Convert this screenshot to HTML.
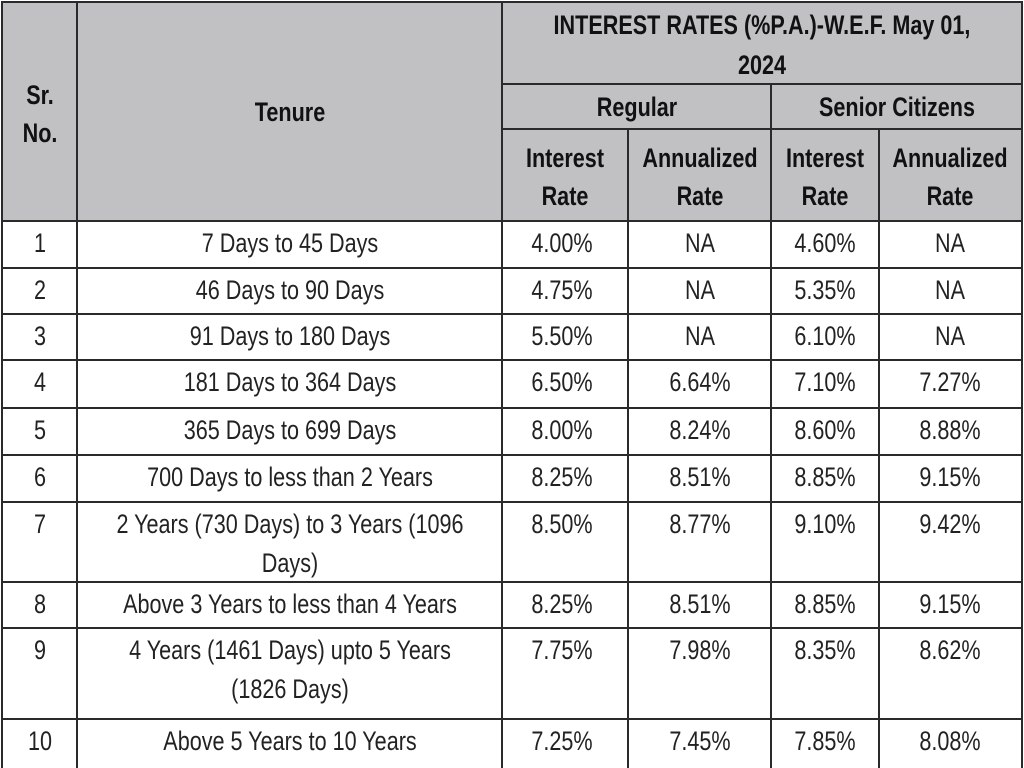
<!DOCTYPE html>
<html><head><meta charset="utf-8">
<style>
body{margin:0;width:1024px;height:768px;background:#fff;overflow:hidden;position:relative;font-family:"Liberation Sans",sans-serif;color:#222}
.hd{position:absolute;background:#c1c0c3}
.ln{position:absolute;background:#2a2a2a}
.t{position:absolute;white-space:nowrap;transform:translateX(-50%) scaleX(0.8);font-size:27px;line-height:39px;text-align:center}
.b{font-weight:bold;color:#111}
</style></head><body>
<div class="hd" style="left:2px;top:2px;width:1020px;height:219px"></div>
<div id="root"></div>
<script>
const root=document.getElementById('root');
const colX=[2,77,502,628,771,879,1022];
const rowY=[221,268,314,360,408,455,502,582,628,719,768];
const srNo=['1','2','3','4','5','6','7','8','9','10'];
const tenure=[['7 Days to 45 Days'],['46 Days to 90 Days'],['91 Days to 180 Days'],['181 Days to 364 Days'],['365 Days to 699 Days'],['700 Days to less than 2 Years'],['2 Years (730 Days) to 3 Years (1096','Days)'],['Above 3 Years to less than 4 Years'],['4 Years (1461 Days) upto 5 Years','(1826 Days)'],['Above 5 Years to 10 Years']];
const regRate=['4.00%','4.75%','5.50%','6.50%','8.00%','8.25%','8.50%','8.25%','7.75%','7.25%'];
const regAnn=['NA','NA','NA','6.64%','8.24%','8.51%','8.77%','8.51%','7.98%','7.45%'];
const senRate=['4.60%','5.35%','6.10%','7.10%','8.60%','8.85%','9.10%','8.85%','8.35%','7.85%'];
const senAnn=['NA','NA','NA','7.27%','8.88%','9.15%','9.42%','9.15%','8.62%','8.08%'];
function line(x,y,w,h,name){const d=document.createElement('div');d.className='ln';


d.style.cssText=`left:${x}px;top:${y}px;width:${w}px;height:${h}px`;root.appendChild(d);}
function text(cx,top,s,name,bold){const d=document.createElement('div');d.className='t'+(bold?' b':'');


d.style.left=cx+'px';d.style.top=top+'px';d.textContent=s;root.appendChild(d);}
// grid lines
line(2,1,1020,2,'table-top-border');
line(502,83,520,2,'header-divider-1');
line(502,128,520,2,'header-divider-2');
rowY.slice(0,-1).forEach((y,i)=>line(2,y-1,1020,2,'row-border-'+i));
line(1,1,2,767,'col-border-left');
line(76,1,2,767,'col-border-1');
line(501,1,2,767,'col-border-2');
line(627,128,2,640,'col-border-3');
line(770,83,2,685,'col-border-4');
line(878,128,2,640,'col-border-5');
line(1021,1,2,767,'col-border-right');
// header text
text(40,76,'Sr.','sr-no-header-line1',true);
text(40,114,'No.','sr-no-header-line2',true);
text(290,93,'Tenure','tenure-header',true);
text(762,6,'INTEREST RATES (%P.A.)-W.E.F. May 01,','rates-title-line1',true);
text(762,46,'2024','rates-title-line2',true);
text(637,88,'Regular','regular-header',true);
text(897,88,'Senior Citizens','senior-header',true);
[[565,'Interest','Rate'],[700,'Annualized','Rate'],[825,'Interest','Rate'],[950,'Annualized','Rate']].forEach((c,i)=>{
text(c[0],139,c[1],'subheader-'+i+'-line1',true);text(c[0],177,c[2],'subheader-'+i+'-line2',true);});
// data
srNo.forEach((s,i)=>{const top=rowY[i]+3;
text(40,top,s,'sr-no-'+(i+1));
tenure[i].forEach((t,j)=>text(290,top+j*39,t,'tenure-'+(i+1)+'-line'+(j+1)));
text(562,top,regRate[i],'regular-rate-'+(i+1));
text(700,top,regAnn[i],'regular-annualized-'+(i+1));
text(825,top,senRate[i],'senior-rate-'+(i+1));
text(950,top,senAnn[i],'senior-annualized-'+(i+1));
});
</script>
</body></html>
